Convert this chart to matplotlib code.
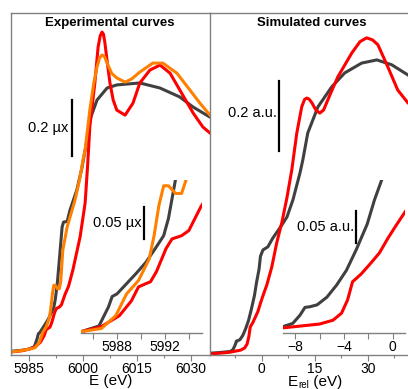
import matplotlib
matplotlib.use("Agg")
import matplotlib.pyplot as plt
from matplotlib.ticker import MultipleLocator

plt.rcParams['font.family'] = ['Liberation Sans', 'DejaVu Sans']

# ---------------- Experimental data (E in eV, absorption in mu x) ----------------
exp_black_E = [5980.0, 5983.0, 5985.0, 5986.5, 5987.3, 5987.6, 5988.0, 5988.8, 5989.6,
               5990.4, 5991.2, 5991.9, 5992.3, 5992.9, 5993.6, 5994.2, 5994.6, 5995.6,
               5996.4, 5998.3, 5999.7, 6001.1, 6001.9, 6003.9, 6006.7, 6009.4, 6015.8,
               6021.4, 6026.9, 6030.6, 6035.3]
exp_black_mu = [0.002, 0.006, 0.010, 0.019, 0.049, 0.065, 0.069, 0.085, 0.101,
                0.118, 0.140, 0.160, 0.187, 0.249, 0.354, 0.446, 0.464, 0.466,
                0.507, 0.579, 0.657, 0.757, 0.829, 0.900, 0.943, 0.954, 0.961,
                0.943, 0.911, 0.875, 0.839]

exp_orange_E = [5980.0, 5983.0, 5985.0, 5986.7, 5987.9, 5988.8, 5989.8, 5990.7, 5991.1,
                5991.5, 5991.9, 5992.3, 5992.9, 5993.4, 5993.8, 5994.4, 5995.6, 5996.4,
                5997.8, 5999.2, 6000.0, 6000.6, 6001.9, 6003.0, 6003.9, 6004.6, 6005.3,
                6006.0, 6006.7, 6008.0, 6009.4, 6011.7, 6013.5, 6015.8, 6019.4, 6022.2,
                6026.1, 6029.7, 6032.5, 6035.3]
exp_orange_mu = [0.000, 0.005, 0.010, 0.015, 0.035, 0.069, 0.090, 0.124, 0.160,
                 0.207, 0.238, 0.238, 0.226, 0.226, 0.249, 0.364, 0.446, 0.482,
                 0.543, 0.625, 0.686, 0.721, 0.864, 0.960, 1.018, 1.050, 1.061,
                 1.055, 1.032, 0.995, 0.979, 0.964, 0.975, 1.000, 1.032, 1.032,
                 0.996, 0.936, 0.889, 0.846]

exp_red_E = [5980.0, 5983.0, 5985.0, 5986.7, 5988.2, 5989.2, 5989.8, 5990.4, 5990.8,
             5991.3, 5992.1, 5992.6, 5993.4, 5994.0, 5995.0, 5996.0, 5997.2, 5999.2,
             6000.6, 6001.3, 6001.9, 6003.3, 6004.2, 6004.8, 6005.3, 6005.7, 6006.1,
             6006.8, 6007.5, 6008.4, 6009.4, 6011.7, 6013.9, 6015.8, 6018.6, 6021.4,
             6024.2, 6026.9, 6030.6, 6033.3, 6035.3]
exp_red_mu = [0.000, 0.004, 0.010, 0.018, 0.035, 0.058, 0.080, 0.085, 0.088,
              0.104, 0.140, 0.155, 0.160, 0.168, 0.205, 0.235, 0.293, 0.411,
              0.532, 0.668, 0.804, 0.961, 1.089, 1.130, 1.143, 1.135, 1.104,
              1.030, 0.961, 0.900, 0.864, 0.846, 0.889, 0.961, 1.007, 1.025,
              0.996, 0.936, 0.854, 0.804, 0.782]

# ---------------- Simulated data (E_rel in eV, absorption in a.u.) ----------------
sim_black_E = [-15.0, -12.0, -9.0, -8.2, -7.6, -7.2, -6.8, -6.2, -5.4, -4.6, -3.8,
               -3.0, -2.1, -1.5, -0.8, -0.4, 0.3, 1.7, 3.1, 5.1, 7.1, 8.8, 10.8,
               11.6, 13.0, 15.9, 19.8, 23.5, 28.3, 32.6, 36.8, 41.4, 45.0]
sim_black_y = [0.005, 0.007, 0.010, 0.015, 0.028, 0.040, 0.041, 0.044, 0.056, 0.075, 0.098,
               0.130, 0.170, 0.208, 0.245, 0.282, 0.300, 0.309, 0.334, 0.363, 0.394, 0.443, 0.520,
               0.557, 0.634, 0.709, 0.766, 0.806, 0.834, 0.843, 0.829, 0.800, 0.775]

sim_red_E = [-15.0, -12.0, -9.0, -6.0, -4.9, -4.2, -3.7, -3.3, -2.6, -1.9, -1.1,
             -0.4, 0.2, 1.0, 1.4, 2.8, 4.2, 5.7, 7.1, 8.5, 9.9, 11.3, 12.1, 12.7,
             13.4, 14.2, 15.3, 16.4, 17.5, 18.7, 21.5, 25.5, 27.8, 29.7, 31.4, 32.9,
             35.7, 38.5, 41.4, 45.0]
sim_red_y = [0.003, 0.005, 0.008, 0.014, 0.020, 0.031, 0.052, 0.080, 0.092, 0.107, 0.125,
             0.148, 0.166, 0.189, 0.200, 0.251, 0.320, 0.380, 0.449, 0.530, 0.634, 0.709, 0.730, 0.734,
             0.731, 0.720, 0.700, 0.691, 0.700, 0.729, 0.794, 0.863, 0.895, 0.906, 0.900, 0.886,
             0.823, 0.757, 0.720, 0.700]

exp_ticks = [5985, 6000, 6015, 6030]
exp_inset_ticks = [5988, 5992]
sim_ticks = [0, 15, 30]
sim_inset_ticks = [-8, -4, 0]

BLACK = '#404040'
ORANGE = '#FF8000'
RED = '#FF0000'
SPINE = '#808080'
LW = 2.2

W, H = 408, 389
fig = plt.figure(figsize=(W / 100, H / 100), dpi=100)


def fr(x0, y0, x1, y1):
    return [x0 / W, 1 - y1 / H, (x1 - x0) / W, (y1 - y0) / H]


def style_main(ax):
    ax.set_yticks([])
    for s in ax.spines.values():
        s.set_color(SPINE)
        s.set_linewidth(1.0)
    ax.tick_params(axis='x', which='major', direction='out', length=4, width=0.8,
                   color=SPINE, labelsize=10, pad=1)
    ax.tick_params(axis='x', which='minor', direction='out', length=2.5, width=0.8, color=SPINE)


def style_inset(ax):
    ax.patch.set_alpha(0)
    for k in ['top', 'right', 'left']:
        ax.spines[k].set_visible(False)
    ax.spines['bottom'].set_color(SPINE)
    ax.spines['bottom'].set_linewidth(1.0)
    ax.set_yticks([])
    ax.tick_params(axis='x', which='major', direction='out', length=4, width=0.8,
                   color=SPINE, labelsize=10, pad=1)
    ax.tick_params(axis='x', which='minor', direction='out', length=4, width=0.8, color=SPINE)


# ---- Left: experimental ----
axL = fig.add_axes(fr(11, 13, 210, 355))
axL.plot(exp_black_E, exp_black_mu, color=BLACK, lw=LW, solid_joinstyle='round')
axL.plot(exp_red_E, exp_red_mu, color=RED, lw=LW, solid_joinstyle='round')
axL.plot(exp_orange_E, exp_orange_mu, color=ORANGE, lw=LW, solid_joinstyle='round')
axL.set_xlim(5980.0, 6035.3)
axL.set_ylim(-0.011, 1.211)
axL.set_xticks(exp_ticks)
axL.xaxis.set_minor_locator(MultipleLocator(7.5))
style_main(axL)
axL.spines['right'].set_visible(False)
axL.set_xlabel('E (eV)', fontsize=11, labelpad=-1.5)
axL.text(0.497, 0.971, 'Experimental curves', transform=axL.transAxes, fontsize=9.5,
         fontweight='bold', ha='center', va='center')
# scale bar 0.2
axL.plot([5997.0, 5997.0], [0.7, 0.9], color='black', lw=1.6)
axL.text(5996.0, 0.8, '0.2 \u00b5x', fontsize=10.5, ha='right', va='center')

axLi = fig.add_axes(fr(81, 180, 202, 333))
axLi.plot(exp_black_E, exp_black_mu, color=BLACK, lw=LW, solid_joinstyle='round')
axLi.plot(exp_red_E, exp_red_mu, color=RED, lw=LW, solid_joinstyle='round')
axLi.plot(exp_orange_E, exp_orange_mu, color=ORANGE, lw=LW, solid_joinstyle='round')
axLi.set_xlim(5985.0, 5995.1)
axLi.set_ylim(0.008, 0.247)
axLi.set_xticks(exp_inset_ticks)
axLi.xaxis.set_minor_locator(MultipleLocator(2))
style_inset(axLi)
axLi.plot([5990.3, 5990.3], [0.155, 0.205], color='black', lw=1.6)
axLi.text(5990.1, 0.180, '0.05 \u00b5x', fontsize=10.5, ha='right', va='center')

# ---- Right: simulated ----
axR = fig.add_axes(fr(210, 13, 421, 355))
axR.plot(sim_black_E, sim_black_y, color=BLACK, lw=LW, solid_joinstyle='round')
axR.plot(sim_red_E, sim_red_y, color=RED, lw=LW, solid_joinstyle='round')
axR.set_xlim(-14.7, 45.1)
axR.set_ylim(0.0, 0.977)
axR.set_xticks(sim_ticks)
axR.xaxis.set_minor_locator(MultipleLocator(7.5))
style_main(axR)
axR.text(0.483, 0.971, 'Simulated curves', transform=axR.transAxes, fontsize=9.5,
         fontweight='bold', ha='center', va='center')
axR.plot([4.8, 4.8], [0.583, 0.783], color='black', lw=1.6)
axR.text(4.3, 0.69, '0.2 a.u.', fontsize=10.5, ha='right', va='center')

# x label "E_rel (eV)" built from plain text pieces
renderer = fig.canvas.get_renderer()
base_y = 1 - 386 / H
t1 = fig.text(288 / W, base_y, 'E', fontsize=11, ha='left', va='baseline')
x_next = t1.get_window_extent(renderer).x1 / (W)
t2 = fig.text(x_next + 0.5 / W, 1 - 388 / H, 'rel', fontsize=7, ha='left', va='baseline')
x_next = t2.get_window_extent(renderer).x1 / (W)
fig.text(x_next, base_y, ' (eV)', fontsize=11, ha='left', va='baseline')

axRi = fig.add_axes(fr(283, 180, 405, 333))
axRi.plot(sim_black_E, sim_black_y, color=BLACK, lw=LW, solid_joinstyle='round')
axRi.plot(sim_red_E, sim_red_y, color=RED, lw=LW, solid_joinstyle='round')
axRi.set_xlim(-9.0, 1.0)
axRi.set_ylim(0.0, 0.239)
axRi.set_xticks(sim_inset_ticks)
axRi.xaxis.set_minor_locator(MultipleLocator(2))
style_inset(axRi)
axRi.plot([-3.0, -3.0], [0.14, 0.19], color='black', lw=1.6)
axRi.text(-3.2, 0.165, '0.05 a.u.', fontsize=10.5, ha='right', va='center')

fig.savefig('out.png', dpi=100)
